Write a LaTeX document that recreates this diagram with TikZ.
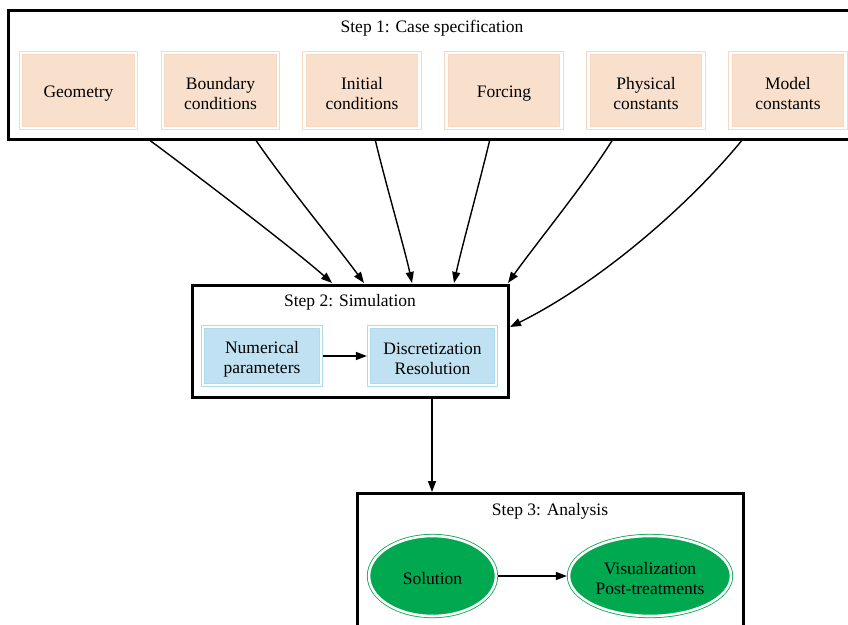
\documentclass[tikz,border=0pt]{standalone}
\usepackage{fontspec}
\setmainfont{Liberation Serif}
\usetikzlibrary{arrows.meta,shapes.geometric}
\definecolor{peach}{HTML}{F9E0CC}
\definecolor{peachline}{HTML}{F7D9C2}
\definecolor{skyfill}{HTML}{BFE1F1}
\definecolor{skyline}{HTML}{AEDAEE}
\definecolor{leaf}{HTML}{00A84F}
\begin{document}
\begin{tikzpicture}[x=1pt,y=-1pt,
  every node/.style={font=\fontsize{17.5}{20}\selectfont, align=center, inner sep=0pt},
  txt/.style={yshift=-3pt, align=center},
  cluster/.style={draw=black, line width=3pt, fill=white, rectangle},
  inputbox/.style={rectangle, fill=peach, draw=peachline, line width=0.8pt,
    double=white, double distance=2.6pt, outer sep=2.1pt,
    minimum width=115pt, minimum height=75pt},
  simbox/.style={rectangle, fill=skyfill, draw=skyline, line width=0.8pt,
    double=white, double distance=2.6pt, outer sep=2.1pt, minimum height=58pt},
  resultnode/.style={ellipse, fill=leaf, draw=leaf, line width=0.8pt,
    double=white, double distance=2.6pt, outer sep=2.1pt, minimum height=80pt},
  flow/.style={-{Triangle[length=11pt,width=8pt]}, line width=1.4pt, black}
]
\useasboundingbox (0,0) rectangle (848,624);

% Step 1: case specification
\node[cluster, minimum width=854pt, minimum height=129pt] (step1) at (435,74.5) {};
\node (title1) at (432,28) {Step 1: Case specification};
\node[inputbox, label={[txt]center:Geometry}]            (geom)  at (78.5,90.5)  {};
\node[inputbox, label={[txt]center:Boundary\\conditions}] (bc)    at (220.5,90.5) {};
\node[inputbox, label={[txt]center:Initial\\conditions}]  (ic)    at (362,90.5)   {};
\node[inputbox, label={[txt]center:Forcing}]             (force) at (504,90.5)   {};
\node[inputbox, label={[txt]center:Physical\\constants}]  (phys)  at (646,90.5)   {};
\node[inputbox, label={[txt]center:Model\\constants}]     (model) at (788,90.5)   {};

% Step 2: simulation
\node[cluster, minimum width=316pt, minimum height=112pt] (step2) at (350,341) {};
\node (title2) at (350,302) {Step 2: Simulation};
\node[simbox, minimum width=118pt, label={[txt]center:Numerical\\parameters}] (num) at (262,356) {};
\node[simbox, minimum width=127pt, label={[txt]center:Discretization\\Resolution}] (disc) at (432.5,356) {};

% Step 3: analysis
\node[cluster, minimum width=386pt, minimum height=167pt] (step3) at (550,576.5) {};
\node (title3) at (550,511) {Step 3: Analysis};
\node[resultnode, minimum width=127pt, label={[txt]center:Solution}] (sol) at (432.5,576) {};
\node[resultnode, minimum width=162pt, label={[txt]center:Visualization\\Post-treatments}] (vis) at (650,576) {};

% attachment points on the cluster borders
\coordinate (o1) at (148,139);
\coordinate (o2) at (255,139);
\coordinate (o3) at (375,139);
\coordinate (o4) at (490,139);
\coordinate (o5) at (613,139);
\coordinate (o6) at (743,139);
\coordinate (i1) at (332,283);
\coordinate (i2) at (364,283);
\coordinate (i3) at (412,283);
\coordinate (i4) at (454,283);
\coordinate (i5) at (508,283);
\coordinate (i6) at (510,327);
\coordinate (s2out) at (432,398);
\coordinate (s3in) at (432,492);

% inputs feeding the simulation
\draw[flow] (o1) .. controls (190,170) and (295,250) .. (i1);
\draw[flow] (o2) .. controls (285,183) and (340,250) .. (i2);
\draw[flow] (o3) .. controls (386,185) and (405,250) .. (i3);
\draw[flow] (o4) .. controls (479,185) and (461,250) .. (i4);
\draw[flow] (o5) .. controls (588,180) and (535,245) .. (i5);
\draw[flow] (o6) .. controls (685,210) and (595,285) .. (i6);

\draw[flow] (num) -- (disc);
\draw[flow] (s2out) -- (s3in);
\draw[flow] (sol) -- (vis);
\end{tikzpicture}
\end{document}
